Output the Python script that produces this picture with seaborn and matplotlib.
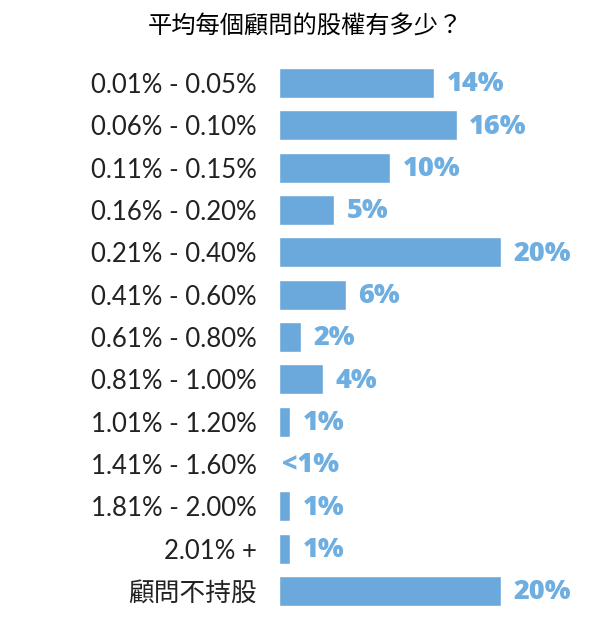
import matplotlib
matplotlib.use("Agg")
import matplotlib.pyplot as plt
import seaborn as sns
import pandas as pd

# --- 数据 ---
ranges = ['0.01% - 0.05%', '0.06% - 0.10%', '0.11% - 0.15%', '0.16% - 0.20%',
          '0.21% - 0.40%', '0.41% - 0.60%', '0.61% - 0.80%', '0.81% - 1.00%',
          '1.01% - 1.20%', '1.41% - 1.60%', '1.81% - 2.00%', '2.01% +', '顧問不持股']
shares = [14, 16, 10, 5, 20, 6, 2, 4, 1, 0, 1, 1, 20]
value_labels = ['14%', '16%', '10%', '5%', '20%', '6%', '2%', '4%', '1%', '<1%', '1%', '1%', '20%']

title = '平均每個顧問的股權有多少？'

sns.set_theme(style='white')
plt.rcParams['font.family'] = ['Lato', 'Noto Sans CJK TC', 'DejaVu Sans']

df = pd.DataFrame({'range': ranges, 'share': shares})

fig = plt.figure(figsize=(6.15, 6.2), dpi=100)
ax = fig.add_axes([0.4537, 0.0127, 0.451, 0.8875])

sns.barplot(data=df, x='share', y='range', color='#6ba8db', saturation=1,
            width=0.71, ax=ax)

ax.set_xlim(0, 25)
ax.set_xlabel('')
ax.set_ylabel('')
ax.set_xticks([])
sns.despine(ax=ax, left=True, bottom=True)
ax.tick_params(axis='y', length=0, pad=16, labelsize=18.5, labelcolor='#222222')

# 数值标签
for i, (v, lab) in enumerate(zip(shares, value_labels)):
    ax.annotate(lab, xy=(v, i), xytext=(9 if v > 0 else 2, -1),
                textcoords='offset points', va='center', ha='left',
                fontsize=19.5, fontweight='heavy', color='#6eaee0',
                family=['Open Sans', 'DejaVu Sans'])

fig.text(0.496, 0.958, title, ha='center', va='center', fontsize=17.5,
         family=['Noto Sans CJK TC', 'DejaVu Sans'], color='black')

fig.savefig('out.png', dpi=100, facecolor='white')
